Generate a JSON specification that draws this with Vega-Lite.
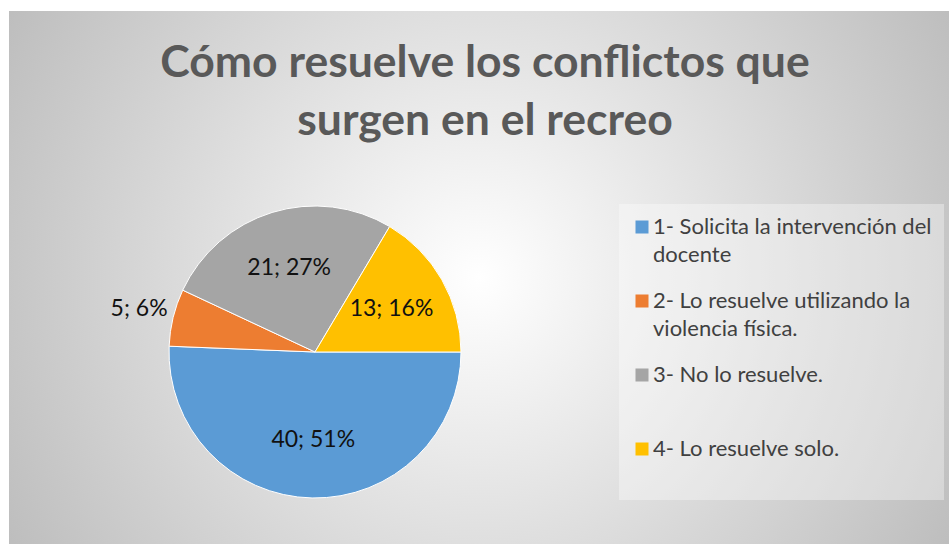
{
  "$schema": "https://vega.github.io/schema/vega-lite/v6.json",
  "width": 940,
  "height": 533,
  "autosize": {"type": "none"},
  "padding": {"left": 9, "top": 11, "right": 0, "bottom": 0},
  "background": "#ffffff",
  "title": {
    "text": ["Cómo resuelve los conflictos que", "surgen en el recreo"],
    "font": "Lato",
    "fontSize": 44.5,
    "fontWeight": "bold",
    "color": "#595959",
    "lineHeight": 58,
    "anchor": "middle",
    "frame": "group",
    "offset": -133,
    "dx": 6
  },
  "data": {
    "values": [
      {"categoria": "1- Solicita la intervención del docente", "n": 40, "etiqueta": "40; 51%"},
      {"categoria": "2- Lo resuelve utilizando la violencia física.", "n": 5, "etiqueta": "5; 6%"},
      {"categoria": "3- No lo resuelve.", "n": 21, "etiqueta": "21; 27%"},
      {"categoria": "4- Lo resuelve solo.", "n": 13, "etiqueta": "13; 16%"}
    ]
  },
  "layer": [
    {
      "data": {"values": [{"fondo": 1}]},
      "mark": {
        "type": "rect",
        "x": 0,
        "y": 0,
        "x2": {"expr": "width"},
        "y2": {"expr": "height"},
        "fill": {
          "gradient": "radial",
          "x1": 0.5, "y1": 0.5, "r1": 0,
          "x2": 0.5, "y2": 0.5, "r2": 0.58,
          "stops": [{"offset": 0, "color": "#ffffff"}, {"offset": 1, "color": "#bdbdbd"}]
        }
      },
      "encoding": {}
    },
    {
      "mark": {"type": "arc", "outerRadius": 146, "stroke": "#ffffff", "strokeWidth": 1, "x": 306, "y": 341},
      "encoding": {
        "theta": {"field": "n", "type": "quantitative", "stack": true, "scale": {"range": [1.5707963, 7.8539816]}},
        "order": {"field": "categoria", "sort": "ascending"},
        "color": {
          "field": "categoria",
          "type": "nominal",
          "scale": {
            "domain": ["1- Solicita la intervención del docente", "2- Lo resuelve utilizando la violencia física.", "3- No lo resuelve.", "4- Lo resuelve solo."],
            "range": ["#5B9BD5", "#ED7D31", "#A5A5A5", "#FFC000"]
          },
          "legend": {
            "orient": "none",
            "legendX": 610,
            "legendY": 193,
            "title": null,
            "labelExpr": "datum.label == '1- Solicita la intervención del docente' ? ['1- Solicita la intervención del', 'docente'] : datum.label == '2- Lo resuelve utilizando la violencia física.' ? ['2- Lo resuelve utilizando la', 'violencia física.'] : [datum.label, ' ']",
            "encode": {"labels": {"update": {"dy": {"value": 14}}}}
          }
        }
      }
    },
    {
      "mark": {"type": "text", "radius": 88, "x": 306, "y": 341, "font": "Lato", "fontSize": 23, "color": "#111111"},
      "encoding": {
        "theta": {"field": "n", "type": "quantitative", "stack": true},
        "order": {"field": "categoria", "sort": "ascending"},
        "detail": {"field": "categoria", "type": "nominal"},
        "text": {"field": "etiqueta", "type": "nominal"},
        "opacity": {"condition": {"test": "datum.n < 10", "value": 0}, "value": 1}
      }
    },
    {
      "mark": {"type": "text", "radius": 181, "x": 306, "y": 341, "font": "Lato", "fontSize": 23, "color": "#111111"},
      "encoding": {
        "theta": {"field": "n", "type": "quantitative", "stack": true},
        "order": {"field": "categoria", "sort": "ascending"},
        "detail": {"field": "categoria", "type": "nominal"},
        "text": {"field": "etiqueta", "type": "nominal"},
        "opacity": {"condition": {"test": "datum.n < 10", "value": 1}, "value": 0}
      }
    }
  ],
  "config": {
    "view": {"stroke": null},
    "style": {"guide-label": {"lineHeight": 28}},
    "legend": {
      "symbolType": "square",
      "symbolSize": 169,
      "symbolStrokeWidth": 0,
      "labelFont": "Lato",
      "labelFontSize": 22,
      "labelColor": "#404040",
      "labelOffset": 0,
      "labelLimit": 400,
      "rowPadding": 24,
      "padding": 12,
      "fillColor": "rgba(255,255,255,0.35)",
      "strokeColor": null
    }
  }
}
